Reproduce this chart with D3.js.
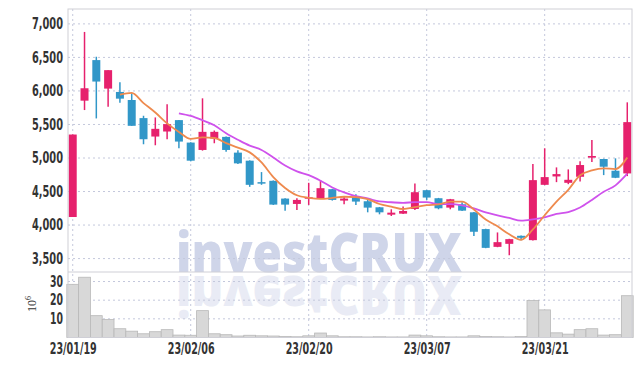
<!DOCTYPE html>
<html>
<head>
<meta charset="utf-8">
<script src="https://cdn.jsdelivr.net/npm/d3@7"></script>
<style>
  body { margin: 0; background: #fff; }
  svg { display: block; }
  .tick-label { font-family: 'DejaVu Sans Condensed', 'DejaVu Sans', sans-serif; font-stretch: condensed; font-weight: bold; font-size: 15px; fill: #333; }
</style>
</head>
<body>
<div id="chart"></div>
<script>
// Data (prices in KRW, volume in millions)

var dates = ['23/01/19', '23/01/20', '23/01/25', '23/01/26', '23/01/27', '23/01/30', '23/01/31',
  '23/02/01', '23/02/02', '23/02/03', '23/02/06', '23/02/07', '23/02/08', '23/02/09', '23/02/10',
  '23/02/13', '23/02/14', '23/02/15', '23/02/16', '23/02/17', '23/02/20', '23/02/21', '23/02/22',
  '23/02/23', '23/02/24', '23/02/27', '23/02/28', '23/03/02', '23/03/03', '23/03/06', '23/03/07',
  '23/03/08', '23/03/09', '23/03/10', '23/03/13', '23/03/14', '23/03/15', '23/03/16', '23/03/17',
  '23/03/20', '23/03/21', '23/03/22', '23/03/23', '23/03/24', '23/03/27', '23/03/28', '23/03/29',
  '23/03/30']

var open = [4120, 5855, 6460, 6035, 5985, 5865, 5595, 5320, 5395, 5565, 5230, 5120, 5290, 5315, 5080,
  4960, 4640, 4660, 4395, 4315, 4405, 4395, 4535, 4365, 4420, 4355, 4265, 4155, 4170, 4240, 4520,
  4400, 4260, 4310, 4190, 3940, 3675, 3720, 3840, 3775, 4600, 4725, 4630, 4720, 5005, 4985, 4810, 4770]

var high = [5350, 6880, 6510, 6310, 6130, 5965, 5630, 5605, 5800, 5565, 5235, 5890, 5410, 5320, 5115,
  4965, 4790, 4665, 4400, 4400, 4630, 4670, 4540, 4435, 4460, 4385, 4270, 4235, 4275, 4620, 4525,
  4405, 4390, 4340, 4195, 3945, 3890, 3795, 3845, 4910, 5145, 4860, 4830, 4950, 5270, 4990, 4995, 5830]

var low = [4120, 5715, 5590, 5765, 5825, 5480, 5205, 5190, 5280, 5145, 4950, 5110, 5220, 5095, 4910,
  4570, 4600, 4300, 4215, 4225, 4300, 4390, 4365, 4310, 4300, 4190, 4160, 4135, 4165, 4225, 4375,
  4235, 4235, 4210, 3835, 3655, 3670, 3550, 3775, 3770, 4595, 4640, 4610, 4650, 4940, 4745, 4700, 4730]

var close = [5350, 6040, 6140, 6310, 5885, 5480, 5280, 5435, 5505, 5245, 4960, 5390, 5390, 5120, 4920,
  4600, 4635, 4305, 4305, 4375, 4415, 4550, 4375, 4395, 4350, 4260, 4190, 4185, 4210, 4490, 4410,
  4250, 4385, 4215, 3900, 3660, 3745, 3790, 3810, 4670, 4715, 4760, 4675, 4895, 5030, 4870, 4705, 5535]

var volume = [28.5, 32.3, 11.7, 9.6, 4.7, 3.4, 2.0, 3.1, 4.2, 1.3, 1.2, 14.4, 2.0, 1.5, 0.8,
  1.2, 0.9, 0.8, 0.6, 0.4, 0.9, 2.4, 0.9, 0.4, 0.4, 0.3, 0.4, 0.3, 0.3, 1.3, 0.9,
  0.4, 0.3, 0.3, 0.9, 0.5, 0.4, 0.3, 0.5, 19.8, 14.8, 2.5, 1.8, 4.2, 4.7, 1.3, 1.5, 22.4]

var priceTicks = [3500, 4000, 4500, 5000, 5500, 6000, 6500, 7000]
var volumeTicks = [10, 20, 30]
var dateTicks = ['23/01/19', '23/02/06', '23/02/20', '23/03/07', '23/03/21']

// Layout

var width = 642
var height = 366
var left = 68
var right = 632
var priceTop = 9
var priceBottom = 272
var volTop = 272
var volBottom = 337.5

var upColor = '#e6216d'
var downColor = '#3197c8'

var svg = d3.select('#chart')
  .append('svg')
  .attr('width', width)
  .attr('height', height)

// Scales

var xPositionScale = d3.scalePoint()
  .domain(dates)
  .range([left, right])
  .padding(0.4)

var step = xPositionScale.step()

var yPriceScale = d3.scaleLinear()
  .domain([3300, 7222])
  .range([priceBottom, priceTop])

var yVolumeScale = d3.scaleLinear()
  .domain([0, 35.1])
  .range([volBottom, volTop])

// Moving averages of the close

function movingAverage(n) {
  return close.map(function(d, i) {
    if (i < n - 1) return null
    return d3.mean(close.slice(i - n + 1, i + 1))
  })
}

var ma5 = movingAverage(5)
var ma10 = movingAverage(10)

// Watermark + reflection

var mark = svg.append('g').attr('class', 'watermark')

mark.append('text')
  .text('investCRUX')
  .attr('x', 319)
  .attr('y', 272)
  .attr('text-anchor', 'middle')
  .attr('font-family', 'Open Sans, sans-serif')
  .attr('font-weight', 800)
  .attr('font-size', 54)
  .attr('textLength', 286)
  .attr('lengthAdjust', 'spacingAndGlyphs')
  .attr('fill', '#cfd5e9')

mark.append('text')
  .text('investCRUX')
  .attr('x', 319)
  .attr('y', -276)
  .attr('transform', 'scale(1,-1)')
  .attr('text-anchor', 'middle')
  .attr('font-family', 'Open Sans, sans-serif')
  .attr('font-weight', 800)
  .attr('font-size', 54)
  .attr('textLength', 286)
  .attr('lengthAdjust', 'spacingAndGlyphs')
  .attr('fill', '#cfd5e9')
  .attr('opacity', 0.45)

// Grid lines

var grid = svg.append('g').attr('class', 'grid')

grid.selectAll('.h-price')
  .data(priceTicks)
  .enter()
  .append('line')
  .attr('x1', left)
  .attr('x2', right)
  .attr('y1', d => yPriceScale(d))
  .attr('y2', d => yPriceScale(d))
  .attr('stroke', '#c4c8dc')
  .attr('stroke-dasharray', '2,3')

grid.selectAll('.h-vol')
  .data(volumeTicks)
  .enter()
  .append('line')
  .attr('x1', left)
  .attr('x2', right)
  .attr('y1', d => yVolumeScale(d))
  .attr('y2', d => yVolumeScale(d))
  .attr('stroke', '#c4c8dc')
  .attr('stroke-dasharray', '2,3')

grid.selectAll('.v-line')
  .data(dateTicks)
  .enter()
  .append('line')
  .attr('x1', d => xPositionScale(d))
  .attr('x2', d => xPositionScale(d))
  .attr('y1', priceTop)
  .attr('y2', volBottom)
  .attr('stroke', '#c4c8dc')
  .attr('stroke-dasharray', '2,3')

// Volume bars

svg.append('g')
  .selectAll('rect')
  .data(volume)
  .enter()
  .append('rect')
  .attr('x', (d, i) => xPositionScale(dates[i]) - step / 2)
  .attr('width', step)
  .attr('y', d => yVolumeScale(d))
  .attr('height', d => volBottom - yVolumeScale(d))
  .attr('fill', '#d8d8d8')
  .attr('stroke', '#b8b8b8')
  .attr('stroke-width', 0.8)

// Candles

svg.append('g')
  .selectAll('.candle')
  .data(dates)
  .enter()
  .append('g')
  .attr('class', 'candle')
  .each(function(d, i) {
    var g = d3.select(this)
    var x = xPositionScale(d)
    var color = close[i] >= open[i] ? upColor : downColor
    g.append('line')
      .attr('x1', x)
      .attr('x2', x)
      .attr('y1', yPriceScale(high[i]))
      .attr('y2', yPriceScale(low[i]))
      .attr('stroke', color)
      .attr('stroke-width', 1.5)
    var top = yPriceScale(Math.max(open[i], close[i]))
    var bottom = yPriceScale(Math.min(open[i], close[i]))
    g.append('rect')
      .attr('x', x - 4)
      .attr('width', 8)
      .attr('y', top)
      .attr('height', Math.max(bottom - top, 1.5))
      .attr('fill', color)
  })

// MA lines

var line = d3.line()
  .defined(d => d !== null)
  .x((d, i) => xPositionScale(dates[i]))
  .y(d => yPriceScale(d))
  .curve(d3.curveMonotoneX)

svg.append('path')
  .datum(ma10)
  .attr('d', line)
  .attr('fill', 'none')
  .attr('stroke', '#cf52ec')
  .attr('stroke-width', 1.8)

svg.append('path')
  .datum(ma5)
  .attr('d', line)
  .attr('fill', 'none')
  .attr('stroke', '#ee8a4e')
  .attr('stroke-width', 1.8)

// Frame

svg.append('rect')
  .attr('x', left)
  .attr('y', priceTop)
  .attr('width', right - left)
  .attr('height', volBottom - priceTop)
  .attr('fill', 'none')
  .attr('stroke', '#cfcfd6')

svg.append('line')
  .attr('x1', left)
  .attr('x2', right)
  .attr('y1', priceBottom)
  .attr('y2', priceBottom)
  .attr('stroke', '#cfcfd6')

// Axes

var yAxis = d3.axisLeft(yPriceScale)
  .tickValues(priceTicks)
  .tickFormat(d3.format(','))
  .tickSize(0)
  .tickPadding(5)

svg.append('g')
  .attr('class', 'axis y-axis')
  .attr('transform', 'translate(' + left + ',0)')
  .call(yAxis)

var volAxis = d3.axisLeft(yVolumeScale)
  .tickValues(volumeTicks)
  .tickSize(0)
  .tickPadding(5)

svg.append('g')
  .attr('class', 'axis vol-axis')
  .attr('transform', 'translate(' + left + ',0)')
  .call(volAxis)

var xAxis = d3.axisBottom(xPositionScale)
  .tickValues(dateTicks)
  .tickSize(0)
  .tickPadding(6)

svg.append('g')
  .attr('class', 'axis x-axis')
  .attr('transform', 'translate(0,' + volBottom + ')')
  .call(xAxis)

svg.selectAll('.axis .domain').remove()
svg.selectAll('.axis text')
  .attr('class', 'tick-label')
  .attr('font-family', null)
  .attr('font-size', null)
  .attr('fill', null)

// squeeze the labels to the narrow look of the original
svg.selectAll('.y-axis text').attr('textLength', 31).attr('lengthAdjust', 'spacingAndGlyphs')
svg.selectAll('.vol-axis text').attr('textLength', 13).attr('lengthAdjust', 'spacingAndGlyphs')
svg.selectAll('.x-axis text').attr('textLength', 47).attr('lengthAdjust', 'spacingAndGlyphs')

// 10^6 unit label

var unit = svg.append('text')
  .attr('transform', 'translate(36,304) rotate(-90)')
  .attr('text-anchor', 'middle')
  .attr('font-family', 'Liberation Serif, serif')
  .attr('font-size', 12)
  .attr('fill', '#333')

unit.append('tspan').text('10')
unit.append('tspan').text('6').attr('dy', -5).attr('font-size', 8)
</script>
</body>
</html>
